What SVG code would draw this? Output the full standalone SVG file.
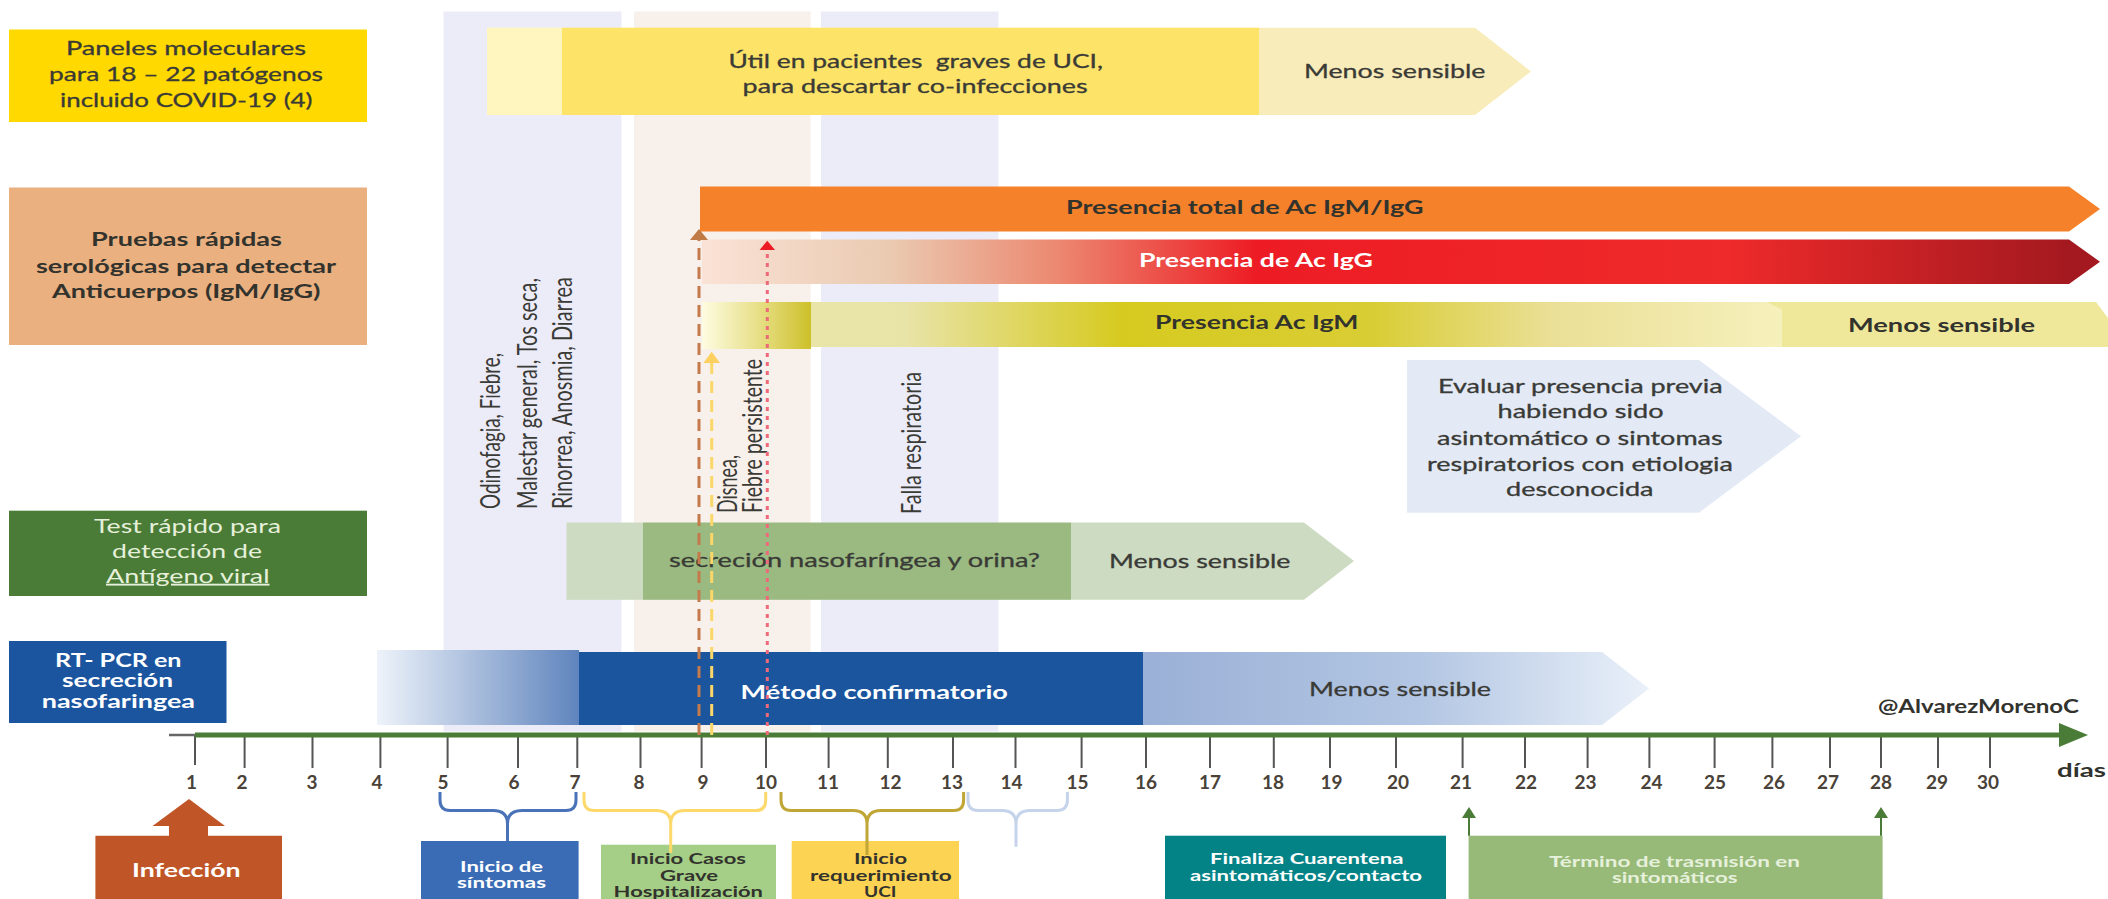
<svg xmlns="http://www.w3.org/2000/svg" width="2108" height="899" viewBox="0 0 2108 899">
<style>
text{font-family:"Lato","Open Sans","Liberation Sans",sans-serif;font-size:19px;fill:#3a3a36;stroke:#3a3a36;stroke-width:.3px}
.b{font-weight:700;fill:#33332e;stroke:none}
.w{fill:#fff;font-weight:700;stroke:none}
.lg{fill:#e6f0da;stroke:none}
.s{font-size:15.500px;font-weight:700;stroke:none}
.n{font-size:19px;fill:#4a4238;font-weight:700;stroke:none}
.v{font-size:26px;fill:#3a3a36;font-weight:400;stroke:none}
.tick{stroke:#555;stroke-width:2;fill:none}
.br{fill:none;stroke-width:3}
</style>
<defs>
<linearGradient id="gRed" gradientUnits="userSpaceOnUse" x1="702" x2="2069" y1="0" y2="0">
<stop offset="0" stop-color="#fae2d6"/><stop offset=".135" stop-color="#eacbb2"/><stop offset=".257" stop-color="#ec8a72"/><stop offset=".405" stop-color="#ed1c24"/><stop offset=".75" stop-color="#ee2a2a"/><stop offset="1" stop-color="#a3191f"/>
</linearGradient>
<linearGradient id="gM1" gradientUnits="userSpaceOnUse" x1="702" x2="811" y1="0" y2="0">
<stop offset="0" stop-color="#fefce2"/><stop offset=".5" stop-color="#e8e08a"/><stop offset="1" stop-color="#cdc02a"/>
</linearGradient>
<linearGradient id="gM2" gradientUnits="userSpaceOnUse" x1="811" x2="1782" y1="0" y2="0">
<stop offset="0" stop-color="#e9e4a8"/><stop offset=".1" stop-color="#e8e3a6"/><stop offset=".32" stop-color="#d6ca20"/><stop offset=".58" stop-color="#d9cd35"/><stop offset=".76" stop-color="#eadf95"/><stop offset="1" stop-color="#f6f0bc"/>
</linearGradient>
<linearGradient id="gP1" gradientUnits="userSpaceOnUse" x1="377" x2="579" y1="0" y2="0">
<stop offset="0" stop-color="#eef3fa"/><stop offset="1" stop-color="#5f84bd"/>
</linearGradient>
<linearGradient id="gP2" gradientUnits="userSpaceOnUse" x1="1143" x2="1649" y1="0" y2="0">
<stop offset="0" stop-color="#9ab0d6"/><stop offset=".55" stop-color="#b3c6e3"/><stop offset="1" stop-color="#e9f0f9"/>
</linearGradient>
</defs>

<g id="bands">
<rect x="443.500" y="11.500" width="178" height="720" fill="#ececf8"/>
<rect x="634" y="11.500" width="176.500" height="720" fill="#f8f0ea"/>
<rect x="821" y="11.500" width="177.500" height="720" fill="#ececf8"/>
</g>

<g id="bar-paneles">
<rect x="487" y="27.700" width="75" height="87.300" fill="#fff6bf"/>
<rect x="562" y="27.700" width="697" height="87.300" fill="#fde468"/>
<polygon points="1259,27.700 1475,27.700 1531,71.400 1475,115 1259,115" fill="#f8ecba"/>
<text x="728.500" y="68" textLength="374.500" lengthAdjust="spacingAndGlyphs" xml:space="preserve">Útil en pacientes  graves de UCI,</text>
<text x="742.600" y="93" textLength="345" lengthAdjust="spacingAndGlyphs">para descartar co-infecciones</text>
<text x="1304" y="78" textLength="181.500" lengthAdjust="spacingAndGlyphs">Menos sensible</text>
</g>

<g id="bar-total">
<polygon points="700,186.500 2069,186.500 2100,209 2069,231.500 700,231.500" fill="#f5822a"/>
<text class="b" x="1066" y="214" textLength="357.600" lengthAdjust="spacingAndGlyphs">Presencia total de Ac IgM/IgG</text>
</g>
<g id="bar-igg">
<polygon points="702,239.500 2069,239.500 2100,261.800 2069,284 702,284" fill="url(#gRed)"/>
<text class="w" x="1139" y="267" textLength="234" lengthAdjust="spacingAndGlyphs">Presencia de Ac IgG</text>
</g>
<g id="bar-igm">
<rect x="702" y="302" width="109" height="47" fill="url(#gM1)"/>
<polygon points="811,302 1766,302 1782,310 1782,347 811,347" fill="url(#gM2)"/>
<polygon points="1766,302 2096,302 2108,318 2108,347 1782,347 1782,310" fill="#efe89a"/>
<text class="b" x="1155" y="329" textLength="203.400" lengthAdjust="spacingAndGlyphs">Presencia Ac IgM</text>
<text class="b" x="1848" y="332" textLength="187" lengthAdjust="spacingAndGlyphs">Menos sensible</text>
</g>
<g id="bar-evaluar">
<polygon points="1407,360 1699,360 1801,436.300 1699,512.700 1407,512.700" fill="#e3eaf6"/>
<text x="1438" y="393" textLength="284.700" lengthAdjust="spacingAndGlyphs">Evaluar presencia previa</text>
<text x="1497.500" y="418" textLength="166" lengthAdjust="spacingAndGlyphs">habiendo sido</text>
<text x="1437" y="445" textLength="285.700" lengthAdjust="spacingAndGlyphs">asintomático o sintomas</text>
<text x="1427" y="470.700" textLength="306" lengthAdjust="spacingAndGlyphs">respiratorios con etiologia</text>
<text x="1506" y="496" textLength="147.500" lengthAdjust="spacingAndGlyphs">desconocida</text>
</g>
<g id="bar-antigeno">
<rect x="566.500" y="522.500" width="76.500" height="77.300" fill="#ccdbc2"/>
<rect x="643" y="522.500" width="428" height="77.300" fill="#9bba82"/>
<polygon points="1071,522.500 1304,522.500 1354,561 1304,599.800 1071,599.800" fill="#ccdbc2"/>
<text x="669" y="566.700" textLength="371" lengthAdjust="spacingAndGlyphs">secreción nasofaríngea y orina?</text>
<text x="1109" y="568" textLength="181.500" lengthAdjust="spacingAndGlyphs">Menos sensible</text>
</g>
<g id="bar-pcr">
<rect x="377" y="650" width="202" height="75" fill="url(#gP1)"/>
<rect x="579" y="652" width="564" height="73" fill="#1a559e"/>
<polygon points="1143,652 1602,652 1649,688.500 1602,725 1143,725" fill="url(#gP2)"/>
<text class="w" x="740.600" y="699" textLength="267.400" lengthAdjust="spacingAndGlyphs">Método confirmatorio</text>
<text x="1309" y="695.700" textLength="182" lengthAdjust="spacingAndGlyphs">Menos sensible</text>
</g>

<g id="symptoms">
<text class="v" x="500" y="509" transform="rotate(-90 500 509)" textLength="156" lengthAdjust="spacingAndGlyphs">Odinofagia, Fiebre,</text>
<text class="v" x="537" y="509" transform="rotate(-90 537 509)" textLength="231" lengthAdjust="spacingAndGlyphs">Malestar general, Tos seca,</text>
<text class="v" x="572" y="509" transform="rotate(-90 572 509)" textLength="232" lengthAdjust="spacingAndGlyphs">Rinorrea, Anosmia, Diarrea</text>
<text class="v" x="736.700" y="513" transform="rotate(-90 736.700 513)" textLength="58" lengthAdjust="spacingAndGlyphs">Disnea,</text>
<text class="v" x="761.700" y="513" transform="rotate(-90 761.700 513)" textLength="154" lengthAdjust="spacingAndGlyphs">Fiebre persistente</text>
<text class="v" x="921" y="514" transform="rotate(-90 921 514)" textLength="142" lengthAdjust="spacingAndGlyphs">Falla respiratoria</text>
</g>

<g id="node-paneles">
<rect x="9" y="29.500" width="358" height="92.500" fill="#ffd900"/>
<text x="66" y="55" textLength="240" lengthAdjust="spacingAndGlyphs">Paneles moleculares</text>
<text x="49" y="81" textLength="274" lengthAdjust="spacingAndGlyphs">para 18 – 22 patógenos</text>
<text x="60" y="107" textLength="252.500" lengthAdjust="spacingAndGlyphs">incluido COVID-19 (4)</text>
</g>
<g id="node-serologicas">
<rect x="9" y="187.500" width="358" height="157.500" fill="#eab07f"/>
<text class="b" x="91" y="246" textLength="191" lengthAdjust="spacingAndGlyphs">Pruebas rápidas</text>
<text class="b" x="36" y="272.700" textLength="300" lengthAdjust="spacingAndGlyphs">serológicas para detectar</text>
<text class="b" x="52" y="298" textLength="268.500" lengthAdjust="spacingAndGlyphs">Anticuerpos (IgM/IgG)</text>
</g>
<g id="node-antigeno">
<rect x="9" y="510.700" width="358" height="85.300" fill="#4a7c37"/>
<text class="lg" x="94" y="532.700" textLength="187" lengthAdjust="spacingAndGlyphs">Test rápido para</text>
<text class="lg" x="112" y="557.700" textLength="150" lengthAdjust="spacingAndGlyphs">detección de</text>
<text class="lg" x="106" y="582.700" textLength="163.500" lengthAdjust="spacingAndGlyphs" text-decoration="underline">Antígeno viral</text>
</g>
<g id="node-pcr">
<rect x="9" y="641" width="217.500" height="82" fill="#1b559f"/>
<text class="w" x="55" y="666.700" textLength="126.500" lengthAdjust="spacingAndGlyphs">RT- PCR en</text>
<text class="w" x="62" y="686.700" textLength="111" lengthAdjust="spacingAndGlyphs">secreción</text>
<text class="w" x="41.700" y="707.700" textLength="153.300" lengthAdjust="spacingAndGlyphs">nasofaringea</text>
</g>

<g id="axis">
<path class="tick" d="M195,735V765M244.600,735V768M312.500,735V768M380.400,735V768M447.600,735V768M518,735V768M577.300,735V768M640.500,735V768M701.600,735V768M766,735V768M828.600,735V768M887.800,735V768M953,735V768M1015.500,735V768M1081.600,735V768M1146,735V768M1210,735V768M1273.800,735V768M1330,735V768M1396,735V768M1462.600,735V768M1525,735V768M1587.600,735V768M1649.400,735V768M1714.600,735V768M1772.400,735V768M1830,735V768M1881,735V768M1938,735V768M1990,735V768"/>
<path d="M169,735H195" stroke="#666" stroke-width="2.500" fill="none"/>
<path d="M195,735H2060" stroke="#4a7c37" stroke-width="5" fill="none"/>
<polygon points="2059,723 2088,735 2059,747" fill="#4a7c37"/>
<g text-anchor="middle">
<text class="n" x="191.500" y="789">1</text><text class="n" x="242" y="789">2</text><text class="n" x="312" y="789">3</text><text class="n" x="377" y="789">4</text><text class="n" x="443" y="789">5</text><text class="n" x="514" y="789">6</text><text class="n" x="575" y="789">7</text><text class="n" x="639" y="789">8</text><text class="n" x="703" y="789">9</text><text class="n" x="766" y="789">10</text><text class="n" x="828" y="789">11</text><text class="n" x="890.500" y="789">12</text><text class="n" x="952" y="789">13</text><text class="n" x="1011.500" y="789">14</text><text class="n" x="1077.500" y="789">15</text><text class="n" x="1146" y="789">16</text><text class="n" x="1210" y="789">17</text><text class="n" x="1273" y="789">18</text><text class="n" x="1331.500" y="789">19</text><text class="n" x="1398" y="789">20</text><text class="n" x="1461" y="789">21</text><text class="n" x="1526" y="789">22</text><text class="n" x="1585.500" y="789">23</text><text class="n" x="1651.500" y="789">24</text><text class="n" x="1715" y="789">25</text><text class="n" x="1774" y="789">26</text><text class="n" x="1828" y="789">27</text><text class="n" x="1881" y="789">28</text><text class="n" x="1937" y="789">29</text><text class="n" x="1988" y="789">30</text>
</g>
<text class="b" x="1878" y="712.700" textLength="201" lengthAdjust="spacingAndGlyphs">@AlvarezMorenoC</text>
<text class="b" x="2057" y="777" textLength="49" lengthAdjust="spacingAndGlyphs">días</text>
</g>

<g id="node-infeccion">
<polygon points="189,799 225,826 208,826 208,835.700 282,835.700 282,899 95.400,899 95.400,835.700 169,835.700 169,826 152.500,826" fill="#c05627"/>
<text class="w" x="132" y="876.700" textLength="108.600" lengthAdjust="spacingAndGlyphs">Infección</text>
</g>
<g id="node-sintomas">
<rect x="421" y="841" width="157.600" height="58" fill="#3a6bb5"/>
<text class="w s" x="460" y="871.700" textLength="83" lengthAdjust="spacingAndGlyphs">Inicio de</text>
<text class="w s" x="457" y="887.700" textLength="89" lengthAdjust="spacingAndGlyphs">síntomas</text>
</g>
<g id="node-grave">
<rect x="601" y="844.700" width="175" height="54.300" fill="#a5cf86"/>
<text class="b s" x="630" y="864" textLength="116" lengthAdjust="spacingAndGlyphs">Inicio Casos</text>
<text class="b s" x="660" y="881" textLength="58" lengthAdjust="spacingAndGlyphs">Grave</text>
<text class="b s" x="613.600" y="897" textLength="149.400" lengthAdjust="spacingAndGlyphs">Hospitalización</text>
</g>
<g id="node-uci">
<rect x="791.700" y="841" width="167.300" height="58" fill="#fdd353"/>
<text class="b s" x="854" y="864" textLength="53" lengthAdjust="spacingAndGlyphs">Inicio</text>
<text class="b s" x="810" y="881" textLength="141.600" lengthAdjust="spacingAndGlyphs">requerimiento</text>
<text class="b s" x="864" y="897" textLength="32.500" lengthAdjust="spacingAndGlyphs">UCI</text>
</g>
<g id="node-cuarentena">
<rect x="1165" y="835.700" width="281" height="63.300" fill="#048387"/>
<text class="w s" x="1210" y="864" textLength="193.500" lengthAdjust="spacingAndGlyphs">Finaliza Cuarentena</text>
<text class="w s" x="1190" y="881" textLength="232" lengthAdjust="spacingAndGlyphs">asintomáticos/contacto</text>
</g>
<g id="node-trasmision">
<rect x="1468.600" y="835.700" width="414" height="63.300" fill="#97ba79"/>
<text class="lg s" x="1549" y="866.700" textLength="251" lengthAdjust="spacingAndGlyphs">Término de trasmisión en</text>
<text class="lg s" x="1612" y="882.700" textLength="125.500" lengthAdjust="spacingAndGlyphs">sintomáticos</text>
</g>

<g id="connectors">
<path class="br" stroke="#4a72b8" d="M440,792V800Q440,810.500 450,810.500H493Q507.500,810.500 507.500,824V841M576,792V800Q576,810.500 566,810.500H522Q507.500,810.500 507.500,824"/>
<path class="br" stroke="#fcd96a" d="M584,792V800Q584,810.500 594,810.500H656Q670.700,810.500 670.700,824V853M765.700,792V800Q765.700,810.500 756,810.500H685Q670.700,810.500 670.700,824"/>
<path class="br" stroke="#bfa637" d="M781,792V800Q781,810.500 791,810.500H853Q867,810.500 867,824V855M963.600,792V800Q963.600,810.500 954,810.500H881Q867,810.500 867,824"/>
<path class="br" stroke="#c5d3eb" d="M968,792V800Q968,810.500 978,810.500H1002Q1016,810.500 1016,824V846.700M1067.400,792V800Q1067.400,810.500 1057,810.500H1030Q1016,810.500 1016,824"/>
<path d="M699,735V240" stroke="#c47a4a" stroke-width="3" stroke-dasharray="12 7" fill="none"/>
<polygon points="699,229 708,240 690,240" fill="#c07a45"/>
<path d="M711.700,735V363" stroke="#fbd76a" stroke-width="3" stroke-dasharray="12 7" fill="none"/>
<polygon points="711.700,351.700 720,363 703.400,363" fill="#fdd060"/>
<path d="M767.300,735V250" stroke="#ee6a7a" stroke-width="3" stroke-dasharray="4 5" fill="none"/>
<polygon points="767.300,240.700 775,250 759.600,250" fill="#ed1c24"/>
<path d="M1469,835.700V817M1881,835.700V817" stroke="#4a7c37" stroke-width="2" fill="none"/>
<polygon points="1469,807 1476,818 1462,818" fill="#4a7c37"/>
<polygon points="1881,807 1888,818 1874,818" fill="#4a7c37"/>
</g>
</svg>
